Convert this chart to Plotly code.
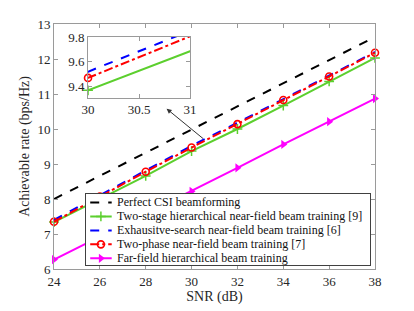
import plotly.graph_objects as go

snr = [24, 26, 28, 30, 32, 34, 36, 38]
perfect = [8.0, 8.66, 9.32, 9.98, 10.64, 11.30, 11.97, 12.63]
two_stage = [7.34, 8.00, 8.66, 9.37, 10.00, 10.67, 11.36, 12.03]
exhaustive = [7.40, 8.10, 8.82, 9.52, 10.18, 10.86, 11.53, 12.20]
two_phase = [7.35, 8.07, 8.78, 9.47, 10.14, 10.83, 11.50, 12.18]
far_field = [6.27, 6.92, 7.57, 8.22, 8.89, 9.56, 10.21, 10.87]

names = ["Perfect CSI beamforming",
         "Two-stage hierarchical near-field beam training [9]",
         "Exhausitve-search near-field beam training [6]",
         "Two-phase near-field beam training [7]",
         "Far-field hierarchical beam training"]

FONT = "Liberation Serif, Times New Roman, serif"
GREEN = "#5ccf2e"
styles = [
    dict(line=dict(color="black", width=2, dash="dash"), mode="lines"),
    dict(line=dict(color=GREEN, width=2), mode="lines+markers",
         marker=dict(symbol="cross-thin", size=7, line=dict(color=GREEN, width=1.5))),
    dict(line=dict(color="#0000ff", width=2, dash="dash"), mode="lines"),
    dict(line=dict(color="#ff0000", width=2, dash="dashdot"), mode="lines+markers",
         marker=dict(symbol="circle-open", size=7, color="#ff0000", line=dict(width=1.6))),
    dict(line=dict(color="#ff00ff", width=2), mode="lines+markers",
         marker=dict(symbol="triangle-right", size=8, color="#ff00ff")),
]
series = [perfect, two_stage, exhaustive, two_phase, far_field]

fig = go.Figure()
for n, s, st in zip(names, series, styles):
    fig.add_trace(go.Scatter(x=snr, y=s, name=n, cliponaxis=False, showlegend=False, **st))

# inset traces (lines)
for i in [1, 2, 3]:
    fig.add_trace(go.Scatter(x=snr, y=series[i], mode="lines", line=styles[i]["line"],
                             xaxis="x2", yaxis="y2", showlegend=False))
j30 = snr.index(30)
for i in [1, 3]:
    fig.add_trace(go.Scatter(x=[30], y=[series[i][j30]], mode="markers", marker=styles[i]["marker"],
                             xaxis="x2", yaxis="y2", showlegend=False, cliponaxis=False))

# manual legend (compact rows like the reference) on its own small subplot
LEG_W, LEG_H = 284.3, 72.3
row_gap = 14.2
row0 = 8.6
for k, (n, st) in enumerate(zip(names, styles)):
    yk = row0 + row_gap * k
    fig.add_trace(go.Scatter(x=[4.5, 26], y=[yk, yk], mode="lines", line=st["line"],
                             xaxis="x3", yaxis="y3", showlegend=False, hoverinfo="skip"))
    if "marker" in st:
        fig.add_trace(go.Scatter(x=[15.2], y=[yk], mode="markers", marker=st["marker"],
                                 xaxis="x3", yaxis="y3", showlegend=False, hoverinfo="skip",
                                 cliponaxis=False))
    fig.add_annotation(x=29, y=yk, xref="x3", yref="y3", text=n, showarrow=False,
                       xanchor="left", yanchor="middle",
                       font=dict(family=FONT, size=12, color="#111111"))

axcol = "#9a9a9a"
tickfont = dict(family=FONT, size=13, color="#262626")
common = dict(showline=True, linecolor=axcol, linewidth=1, mirror="ticks", ticks="inside",
              ticklen=4, tickcolor=axcol, showgrid=False, zeroline=False, tickfont=tickfont)

fig.update_layout(
    width=414, height=311,
    margin=dict(l=54, r=39, t=24, b=38),
    paper_bgcolor="white", plot_bgcolor="white",
    font=dict(family=FONT, color="#262626"),
    showlegend=False,
    xaxis=dict(range=[24, 38], dtick=2, tick0=24,
               title=dict(text="SNR (dB)", font=dict(family=FONT, size=14, color="#262626"), standoff=1),
               **common),
    yaxis=dict(range=[6, 13], dtick=1,
               title=dict(text="Achievable rate (bps/Hz)", font=dict(family=FONT, size=14, color="#262626"), standoff=4),
               **common),
    xaxis2=dict(domain=[0.106, 0.424], anchor="y2", range=[30, 31],
                tickvals=[30, 30.5, 31], ticktext=["30", "30.5", "31"], **common),
    yaxis2=dict(domain=[0.699, 0.947], anchor="x2", range=[9.31, 9.8],
                tickvals=[9.4, 9.6, 9.8], ticktext=["9.4", "9.6", "9.8"], **common),
    xaxis3=dict(domain=[0.0988, 0.984], anchor="y3", range=[0, LEG_W], showline=True,
                mirror=True, linecolor="#404040", linewidth=1, showticklabels=False,
                ticks="", showgrid=False, zeroline=False, fixedrange=True),
    yaxis3=dict(domain=[0.016, 0.306], anchor="x3", range=[LEG_H, 0], showline=True,
                mirror=True, linecolor="#404040", linewidth=1, showticklabels=False,
                ticks="", showgrid=False, zeroline=False, fixedrange=True),
)

fig.add_annotation(x=28.91, y=10.58, ax=30.57, ay=9.69, xref="x", yref="y",
                   axref="x", ayref="y", showarrow=True, arrowhead=2, arrowsize=1,
                   arrowwidth=1, arrowcolor="#333333", text="")

fig.write_html("out.html", config={"displayModeBar": False})

# remove the browser's default body margin so the figure sits at the page origin
with open("out.html", "r", encoding="utf-8") as f:
    html = f.read()
html = html.replace("<head>", "<head><style>html,body{margin:0;padding:0;overflow:hidden;}</style>", 1)
with open("out.html", "w", encoding="utf-8") as f:
    f.write(html)
